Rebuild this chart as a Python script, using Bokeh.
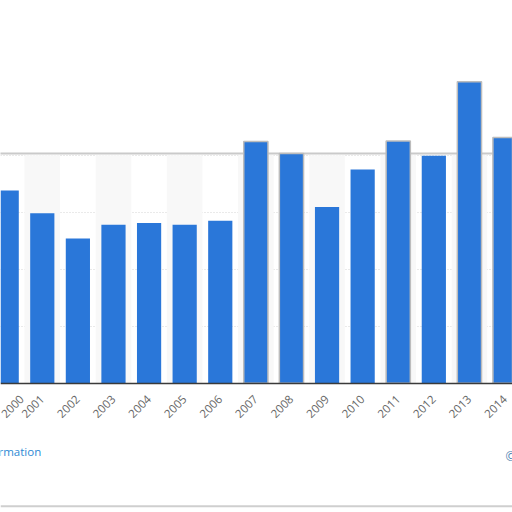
import math
from bokeh.plotting import figure
from bokeh.models import FixedTicker, Label, Span
from bokeh.embed import file_html
from bokeh.resources import INLINE

years = list(range(2000, 2015))
values = [3.38, 2.98, 2.54, 2.78, 2.81, 2.78, 2.85, 4.24, 4.03, 3.09, 3.75, 4.25, 3.99, 5.29, 4.31]
year_labels = [str(y) for y in years]
grid_values = [1, 2, 3, 4]

BAR = "#2a77d9"

p = figure(width=512, height=512, output_backend="svg", toolbar_location=None,
           x_range=(1999.826, 2014.21), y_range=(-2.268, 6.714),
           min_border_left=0, min_border_right=0, min_border_top=0, min_border_bottom=0)
p.outline_line_color = None
p.background_fill_color = "white"
p.border_fill_color = "white"

# alternating column bands
band_years = [y for y in years if y % 2 == 1]
p.quad(left=[y - 0.5 for y in band_years], right=[y + 0.5 for y in band_years],
       bottom=0, top=grid_values[-1], fill_color="#f8f8f8", line_color=None)

# shadow line of the panel edge
p.line(x=[years[0] - 1, years[-1] + 1], y=[4.03, 4.03], line_color="#cacaca", line_width=2)

p.vbar(x=years, top=values, width=0.68, fill_color=BAR, line_color=None)
tall = [(y, v) for y, v in zip(years, values) if v > 4.0]
p.vbar(x=[t[0] for t in tall], top=[t[1] for t in tall], width=0.68,
       fill_color=BAR, line_color="#bcbcbc", line_width=1.5)

p.yaxis.visible = False
p.ygrid.ticker = FixedTicker(ticks=grid_values)
p.ygrid.grid_line_color = "#d4d4d4"
p.ygrid.grid_line_dash = "1 2"
p.ygrid.level = "underlay"
p.xgrid.visible = False

p.xaxis.fixed_location = 0
p.xaxis.ticker = FixedTicker(ticks=years)
p.xaxis.major_label_overrides = {y: s for y, s in zip(years, year_labels)}
p.xaxis.major_label_orientation = math.pi / 4
p.xaxis.major_tick_out = 0
p.xaxis.major_tick_in = 0
p.xaxis.minor_tick_out = 0
p.xaxis.minor_tick_in = 0
p.xaxis.axis_line_color = "#3a3a3a"
p.xaxis.axis_line_width = 1.5
p.xaxis.major_label_text_color = "#666666"
p.xaxis.major_label_text_font = "Open Sans"
p.xaxis.major_label_text_font_size = "11.5px"
p.xaxis.major_label_standoff = 14

p.add_layout(Label(x=2000.97, y=-1.20, text="More information", text_align="right",
                   text_baseline="middle", text_color="#2d8ad4", text_font="Open Sans",
                   text_font_size="11.5px"))
p.add_layout(Label(x=2014.01, y=-1.29, text="©", text_align="left",
                   text_baseline="middle", text_color="#4a7fb0", text_font="Open Sans",
                   text_font_size="12px"))
p.add_layout(Span(location=-2.16, dimension="width", line_color="#cfcfcf", line_width=2))

open("out.html", "w").write(file_html(p, INLINE))
